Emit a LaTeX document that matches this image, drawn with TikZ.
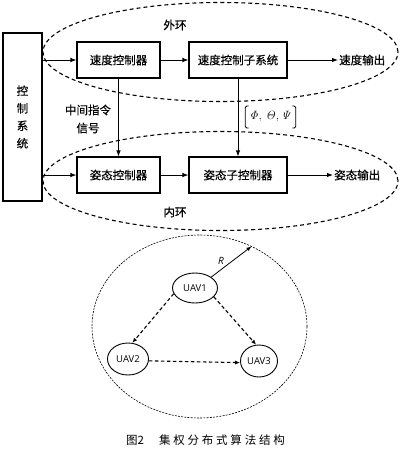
\documentclass[tikz,border=0pt]{standalone}
\usepackage[no-math]{fontspec}
\newfontfamily\cjk[FakeBold=0.5]{Noto Sans CJK SC}
\newfontfamily\capfont{Noto Sans CJK SC}
\newfontfamily\uavfont{Open Sans}
\usetikzlibrary{arrows.meta,shapes.geometric}
\begin{document}
\begin{tikzpicture}[x=1pt,y=-1pt,
  box/.style={draw,line width=1.1pt,minimum height=36pt,inner sep=0pt,font=\cjk\fontsize{11.5}{12}\selectfont},
  lbl/.style={font=\cjk\fontsize{11.5}{12}\selectfont,inner sep=1pt},
  arr/.style={-{Latex[length=6pt,width=4.5pt]},line width=0.9pt},
  loop/.style={draw,ellipse,dash pattern=on 4pt off 3pt,line width=1.1pt,minimum width=355pt,minimum height=99pt,inner sep=0pt,outer sep=0pt},
  uav/.style={draw,ellipse,line width=0.9pt,inner sep=0pt,font=\uavfont\fontsize{9.5}{10}\selectfont},
  darr/.style={-{Latex[length=5pt,width=4pt]},dash pattern=on 3.5pt off 2.5pt,line width=1.1pt}]
\useasboundingbox (0,0) rectangle (401,459);
% loops
\node[loop] (outer) at (220.5,52) {};
\node[loop] (inner) at (220.5,181) {};
\node[lbl] (tout) at (175,25) {外环};
\node[lbl] (tin) at (175,212) {内环};
% control system
\node[draw,line width=1.1pt,minimum width=39pt,minimum height=168pt,inner sep=0pt,align=center,font=\cjk\fontsize{11.5}{17.5}\selectfont] (ctrl) at (22.5,117) {控\\制\\系\\统};
% boxes
\node[box,fill=white,minimum width=83pt] (b1) at (118.5,60) {速度控制器};
\node[box,fill=white,minimum width=98pt] (b2) at (238,60) {速度控制子系统};
\node[box,fill=white,minimum width=83pt] (b3) at (118.5,175) {姿态控制器};
\node[box,fill=white,minimum width=98pt] (b4) at (238,175) {姿态子控制器};
\node[lbl,anchor=west] (o1) at (338,60) {速度输出};
\node[lbl,anchor=west] (o2) at (333,175) {姿态输出};
\node[lbl,align=center,font=\cjk\fontsize{11.5}{18}\selectfont] (mid) at (88,119) {中间指令\\信号};
\node[inner xsep=4pt,inner ysep=2pt,font=\fontsize{12.5}{13}\selectfont] (ang) at (270.5,117) {$\mathit{\Phi},\,\mathit{\Theta},\mathit{\Psi}$};
\draw[line width=0.8pt,rounded corners=1.5pt] ([xshift=3.5pt,yshift=3.5pt]ang.north west) -- ([yshift=3.5pt]ang.north west) -- ([yshift=-3.5pt]ang.south west) -- ([xshift=3.5pt,yshift=-3.5pt]ang.south west);
\draw[line width=0.8pt,rounded corners=1.5pt] ([xshift=-3.5pt,yshift=3.5pt]ang.north east) -- ([yshift=3.5pt]ang.north east) -- ([yshift=-3.5pt]ang.south east) -- ([xshift=-3.5pt,yshift=-3.5pt]ang.south east);
% connectors
\draw[arr] (ctrl.east |- b1.west) -- (b1.west);
\draw[arr] (ctrl.east |- b3.west) -- (b3.west);
\draw[arr] (b1) -- (b2);
\draw[arr] (b3) -- (b4);
\draw[arr] (b2) -- (o1);
\draw[arr] (b4) -- (o2);
\draw[arr] (b1.south) -- (b3.north);
\draw[arr] (b2.south) -- (b4.north);
% bottom: UAV network
\node[draw,ellipse,dash pattern=on 2pt off 1.2pt,line width=0.6pt,minimum width=215pt,minimum height=183pt,inner sep=0pt,outer sep=0pt] (big) at (199.5,326.5) {};
\node[uav,minimum width=45pt,minimum height=30pt] (u1) at (195,288) {UAV1};
\node[uav,minimum width=41pt,minimum height=32pt] (u2) at (128,359) {UAV2};
\node[uav,minimum width=37pt,minimum height=32pt] (u3) at (259,361) {UAV3};
\coordinate (rend) at (big.57);
\draw[-{Latex[length=5pt,width=4pt]},line width=0.8pt] (u1.north east) -- (rend) node[pos=0.35,above left,inner sep=1pt,font=\uavfont\itshape\fontsize{10}{11}\selectfont] (rl) {R};
\draw[darr] (u1.195) -- (u2.75);
\draw[darr] (u1.335) -- (u3.100);
\draw[darr] (u2.355) -- (u3.185);
% caption
\node[font=\capfont\fontsize{11.5}{12}\selectfont,inner sep=0pt] (cap1) at (135,440) {图2};
\node[font=\capfont\fontsize{11.5}{12}\selectfont\addfontfeature{LetterSpace=24},inner sep=0pt] (cap2) at (222,440) {集权分布式算法结构};
\end{tikzpicture}
\end{document}
